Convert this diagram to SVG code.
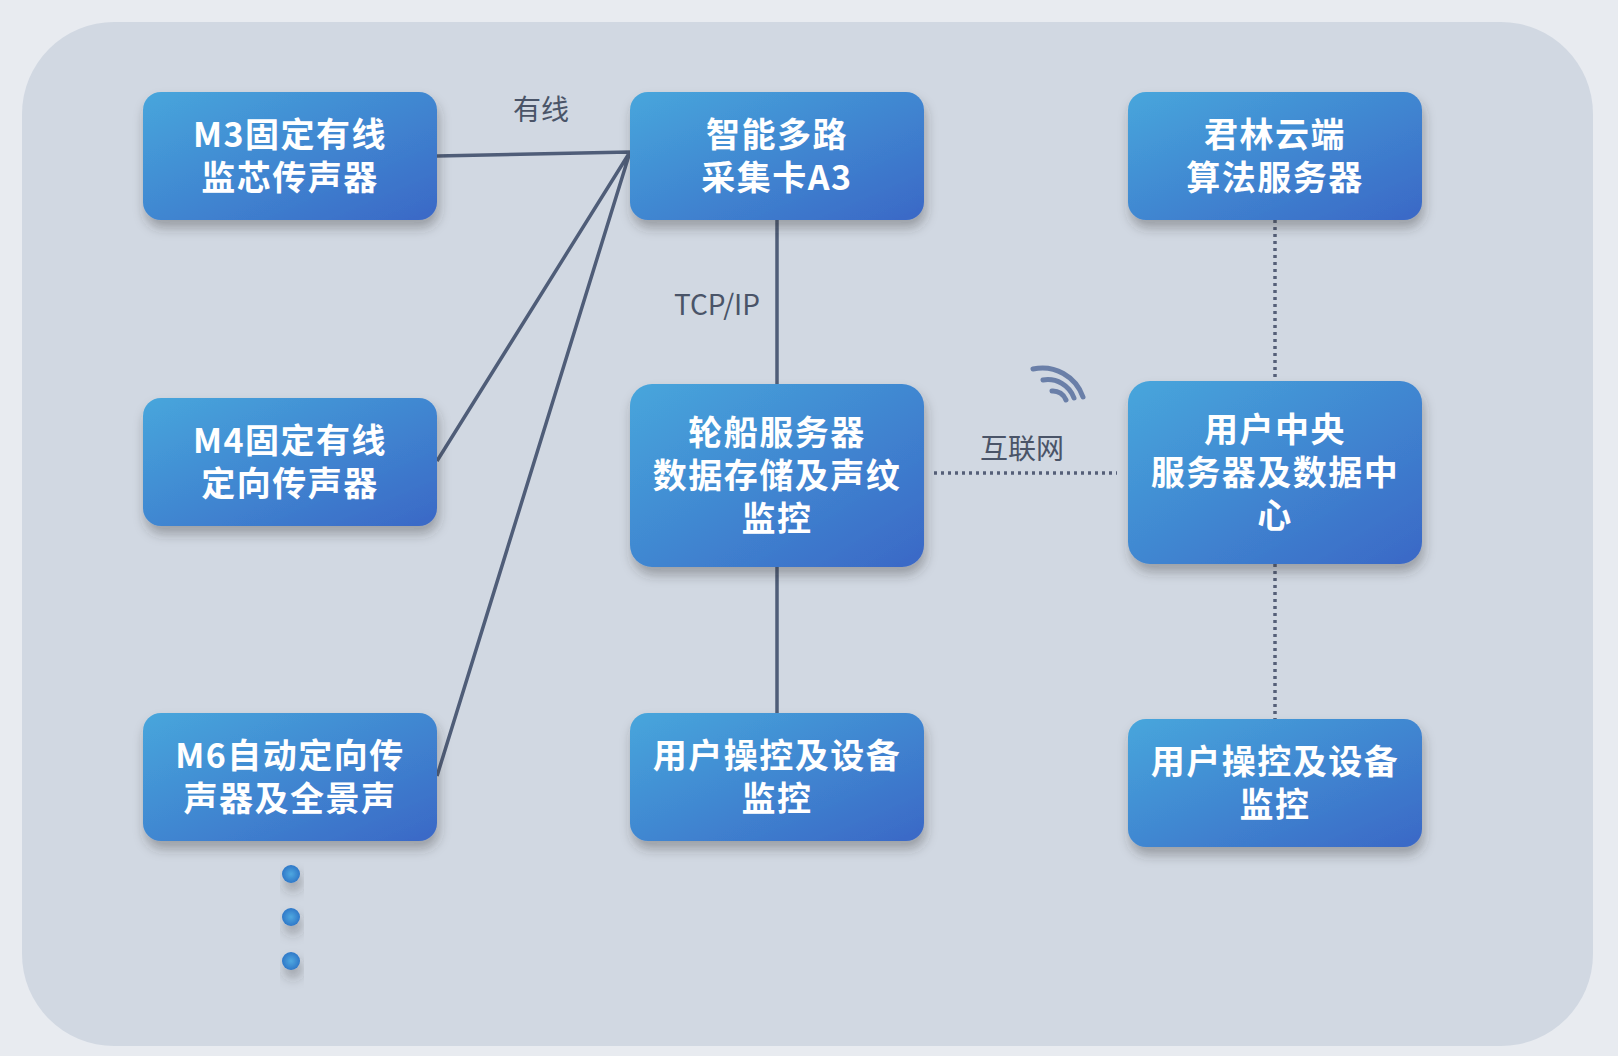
<svg xmlns="http://www.w3.org/2000/svg" width="1618" height="1056" viewBox="0 0 1618 1056">
<style>
.n{fill:url(#g);filter:url(#sh)}
.t{fill:#fff;font-family:"Noto Sans CJK SC","Liberation Sans",sans-serif;font-weight:bold;font-size:34px;letter-spacing:1.5px;text-anchor:middle}
.l{fill:#4a5468;font-family:"Noto Sans CJK SC","Liberation Sans",sans-serif;font-size:28px;text-anchor:middle}
.c{stroke:#4f5d78;stroke-width:3.5;fill:none}
.d{stroke:#555f78;stroke-width:3.5;fill:none;stroke-dasharray:3 4}
</style>
<defs>
<linearGradient id="g" x1="0" y1="0" x2="1" y2="1"><stop offset="0" stop-color="#47a6dc"/><stop offset="1" stop-color="#3a68c6"/></linearGradient>
<radialGradient id="dg"><stop offset="0" stop-color="#4fa8e0"/><stop offset="1" stop-color="#2f78c8"/></radialGradient>
<filter id="sh" x="-10%" y="-10%" width="130%" height="140%"><feDropShadow dx="2" dy="8" stdDeviation="6" flood-color="#333" flood-opacity="0.35"/></filter>
</defs>
<rect width="1618" height="1056" fill="#e8ebf0"/>
<rect x="22" y="22" width="1571" height="1024" rx="92" fill="#d1d8e2"/>
<g id="connectors">
<path class="c" d="M437 156L630 152M437 461L630 152M437 776L630 152M777 220V384M777 567V713"/>
<path class="d" d="M934 473H1117M1275 220V381M1275 564V719"/>
<text class="l" x="541" y="120">有线</text>
<text class="l" x="717" y="315">TCP/IP</text>
<text class="l" x="1022" y="459">互联网</text>
<g fill="none" stroke="#6a7fa8" stroke-width="5" stroke-linecap="round">
<path d="M1052 391a14 14 0 0 1 14 9"/>
<path d="M1043 380a28 28 0 0 1 31 18"/>
<path d="M1033 369a43 43 0 0 1 50 28"/>
</g>
</g>
<g id="m3"><rect class="n" x="143" y="92" width="294" height="128" rx="18"/><text class="t" x="290" y="147">M3固定有线</text><text class="t" x="290" y="190">监芯传声器</text></g>
<g id="m4"><rect class="n" x="143" y="398" width="294" height="128" rx="18"/><text class="t" x="290" y="453">M4固定有线</text><text class="t" x="290" y="496">定向传声器</text></g>
<g id="m6"><rect class="n" x="143" y="713" width="294" height="128" rx="18"/><text class="t" x="290" y="768">M6自动定向传</text><text class="t" x="290" y="811">声器及全景声</text></g>
<g id="a3"><rect class="n" x="630" y="92" width="294" height="128" rx="18"/><text class="t" x="777" y="147">智能多路</text><text class="t" x="777" y="190">采集卡A3</text></g>
<g id="ship"><rect class="n" x="630" y="384" width="294" height="183" rx="22"/><text class="t" x="777" y="445">轮船服务器</text><text class="t" x="777" y="488">数据存储及声纹</text><text class="t" x="777" y="531">监控</text></g>
<g id="uc1"><rect class="n" x="630" y="713" width="294" height="128" rx="18"/><text class="t" x="777" y="768">用户操控及设备</text><text class="t" x="777" y="811">监控</text></g>
<g id="cloud"><rect class="n" x="1128" y="92" width="294" height="128" rx="18"/><text class="t" x="1275" y="147">君林云端</text><text class="t" x="1275" y="190">算法服务器</text></g>
<g id="center"><rect class="n" x="1128" y="381" width="294" height="183" rx="22"/><text class="t" x="1275" y="442">用户中央</text><text class="t" x="1275" y="485">服务器及数据中</text><text class="t" x="1275" y="528">心</text></g>
<g id="uc2"><rect class="n" x="1128" y="719" width="294" height="128" rx="18"/><text class="t" x="1275" y="774">用户操控及设备</text><text class="t" x="1275" y="817">监控</text></g>
<g id="dots" filter="url(#sh)"><circle cx="291" cy="874" r="9" fill="url(#dg)"/><circle cx="291" cy="917" r="9" fill="url(#dg)"/><circle cx="291" cy="961" r="9" fill="url(#dg)"/></g>
</svg>
